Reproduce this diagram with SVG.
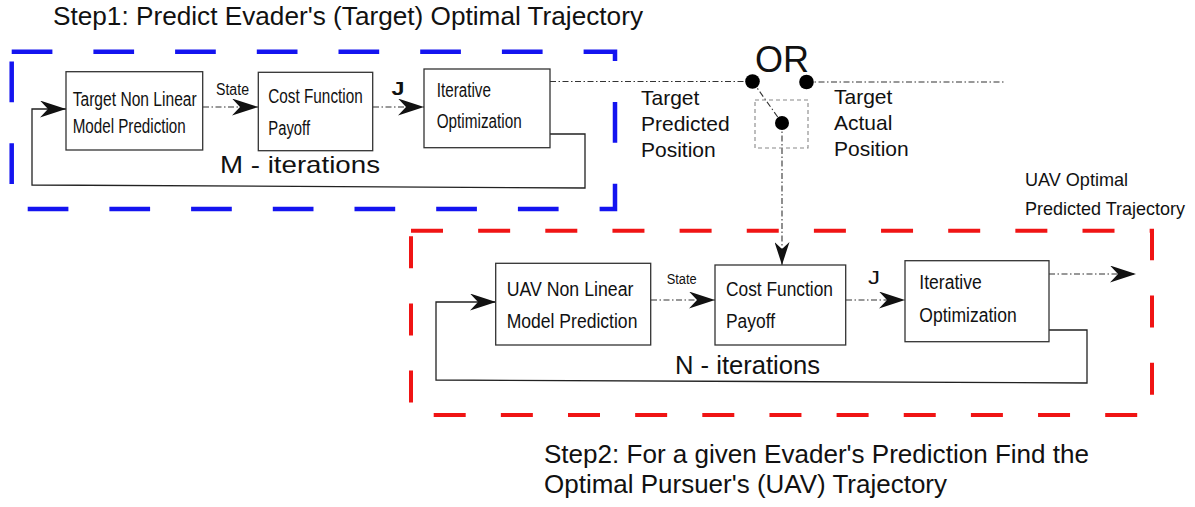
<svg xmlns="http://www.w3.org/2000/svg" width="1195" height="507" viewBox="0 0 1195 507">
<style>
.bg{fill:#ffffff}
.node rect{fill:#ffffff;stroke:#333333;stroke-width:1.3}
.bt{font-family:"Liberation Sans",Arial,sans-serif;font-size:20px;fill:#111111}
.lab{font-family:"Liberation Sans",Arial,sans-serif;fill:#111111}
.solid{fill:none;stroke:#222222;stroke-width:1.3}
.dd{fill:none;stroke:#333333;stroke-width:1.1;stroke-dasharray:6 2.5 1.5 2.5}
.dot{fill:#000000}
</style>
<defs>
<marker id="ah" markerUnits="userSpaceOnUse" markerWidth="26" markerHeight="17" viewBox="0 0 26 17" refX="26" refY="8.5" orient="auto">
<path d="M0,0 L26,8.5 L0,17 L8,8.5 Z" fill="#111111"/>
</marker>
<marker id="ahs" markerUnits="userSpaceOnUse" markerWidth="23" markerHeight="15" viewBox="0 0 23 15" refX="23" refY="7.5" orient="auto">
<path d="M0,0 L23,7.5 L0,15 L7,7.5 Z" fill="#111111"/>
</marker>
</defs>
<rect class="bg" x="0" y="0" width="1195" height="507"/>

<!-- step frames -->
<g id="step1-frame">
<rect x="11.7" y="51.7" width="603.3" height="157.3" fill="none" stroke="#1414f0" stroke-width="4.5" stroke-dasharray="40.7 41"/>
<text class="lab" x="53" y="25" font-size="26" textLength="590" lengthAdjust="spacingAndGlyphs">Step1: Predict Evader's (Target) Optimal Trajectory</text>
</g>
<g id="step2-frame">
<rect x="411" y="230.7" width="741" height="184.3" fill="none" stroke="#f01414" stroke-width="4" stroke-dasharray="32 35.15"/>
<text class="lab" x="544" y="462.5" font-size="26" textLength="545" lengthAdjust="spacingAndGlyphs">Step2: For a given Evader's Prediction Find the</text>
<text class="lab" x="544" y="493" font-size="26" textLength="403" lengthAdjust="spacingAndGlyphs">Optimal Pursuer's (UAV) Trajectory</text>
</g>

<!-- connectors -->
<g id="connectors">
<path class="dd" d="M203,107 H258" marker-end="url(#ah)"/>
<path class="dd" d="M373,107 H424" marker-end="url(#ah)"/>
<path class="solid" d="M550,134 H585 V188 L32,185 V109 H66" marker-end="url(#ah)"/>
<path class="dd" d="M550,81.5 H752"/>
<path class="dd" d="M806,82 H1005"/>
<path class="dd" d="M752.5,81.5 L782,123"/>
<path class="dd" d="M782,123 V265" marker-end="url(#ahs)"/>
<path class="dd" d="M651,300 H715" marker-end="url(#ah)"/>
<path class="dd" d="M846,300 H905" marker-end="url(#ah)"/>
<path class="dd" d="M1049,274 H1136" marker-end="url(#ah)"/>
<path class="solid" d="M1049,330 H1087 V383 L436,380 V302 H496" marker-end="url(#ah)"/>
<text class="lab" x="216" y="94.5" font-size="16" textLength="33" lengthAdjust="spacingAndGlyphs">State</text>
<text class="lab" x="391.5" y="95" font-size="18" font-weight="bold" textLength="13" lengthAdjust="spacingAndGlyphs">J</text>
<text class="lab" x="220" y="173.3" font-size="24" textLength="160" lengthAdjust="spacingAndGlyphs">M - iterations</text>
<text class="lab" x="666.7" y="284" font-size="14" textLength="30" lengthAdjust="spacingAndGlyphs">State</text>
<text class="lab" x="868" y="284" font-size="18" textLength="12" lengthAdjust="spacingAndGlyphs">J</text>
<text class="lab" x="675" y="374.3" font-size="25" textLength="145" lengthAdjust="spacingAndGlyphs">N - iterations</text>
<text class="lab" x="1025" y="186" font-size="19" textLength="103" lengthAdjust="spacingAndGlyphs">UAV Optimal</text>
<text class="lab" x="1025" y="215" font-size="19" textLength="160" lengthAdjust="spacingAndGlyphs">Predicted Trajectory</text>
</g>

<!-- switch -->
<g id="switch">
<rect x="755" y="100" width="53" height="48" fill="none" stroke="#888888" stroke-width="1.1" stroke-dasharray="4 3"/>
<circle class="dot" cx="752.5" cy="81.5" r="7.3"/>
<circle class="dot" cx="806.5" cy="82" r="7.3"/>
<circle class="dot" cx="782" cy="123" r="7"/>
<text class="lab" x="755" y="71.7" font-size="36">OR</text>
</g>
<g id="target-predicted-label">
<text class="lab" x="641" y="105" font-size="21">Target</text>
<text class="lab" x="641" y="131" font-size="21">Predicted</text>
<text class="lab" x="641" y="157" font-size="21">Position</text>
</g>
<g id="target-actual-label">
<text class="lab" x="834" y="103.5" font-size="21">Target</text>
<text class="lab" x="834" y="129.5" font-size="21">Actual</text>
<text class="lab" x="834" y="155.7" font-size="21">Position</text>
</g>

<!-- step 1 nodes -->
<g id="target-model" class="node">
<rect x="66" y="71.7" width="136.7" height="78.3"/>
<text class="bt" transform="translate(72.7,106) scale(0.77,1)" x="0" y="0" textLength="161" lengthAdjust="spacingAndGlyphs">Target Non Linear</text>
<text class="bt" transform="translate(72.7,133.3) scale(0.77,1)" x="0" y="0" textLength="146.8" lengthAdjust="spacingAndGlyphs">Model Prediction</text>
</g>
<g id="target-cost" class="node">
<rect x="258.3" y="72.3" width="114.4" height="78.4"/>
<text class="bt" x="268.3" y="103.3" textLength="94.4" lengthAdjust="spacingAndGlyphs">Cost Function</text>
<text class="bt" x="268.3" y="135" textLength="41.7" lengthAdjust="spacingAndGlyphs">Payoff</text>
</g>
<g id="target-opt" class="node">
<rect x="424" y="69" width="126" height="78.7"/>
<text class="bt" x="436.7" y="96.7" textLength="54.3" lengthAdjust="spacingAndGlyphs">Iterative</text>
<text class="bt" x="436.7" y="128.3" textLength="85" lengthAdjust="spacingAndGlyphs">Optimization</text>
</g>

<!-- step 2 nodes -->
<g id="uav-model" class="node">
<rect x="495.7" y="263.3" width="155" height="81.7"/>
<text class="bt" x="506.7" y="296" font-size="21" textLength="126.7" lengthAdjust="spacingAndGlyphs">UAV Non Linear</text>
<text class="bt" x="506.7" y="328.3" font-size="21" textLength="130.7" lengthAdjust="spacingAndGlyphs">Model Prediction</text>
</g>
<g id="uav-cost" class="node">
<rect x="715" y="265" width="130.7" height="80"/>
<text class="bt" x="726" y="296" font-size="21" textLength="107" lengthAdjust="spacingAndGlyphs">Cost Function</text>
<text class="bt" x="726" y="328" font-size="21" textLength="49" lengthAdjust="spacingAndGlyphs">Payoff</text>
</g>
<g id="uav-opt" class="node">
<rect x="905" y="260.7" width="144" height="81"/>
<text class="bt" x="919.3" y="289.3" font-size="21" textLength="62.4" lengthAdjust="spacingAndGlyphs">Iterative</text>
<text class="bt" x="919.3" y="321.7" font-size="21" textLength="97.4" lengthAdjust="spacingAndGlyphs">Optimization</text>
</g>
</svg>
